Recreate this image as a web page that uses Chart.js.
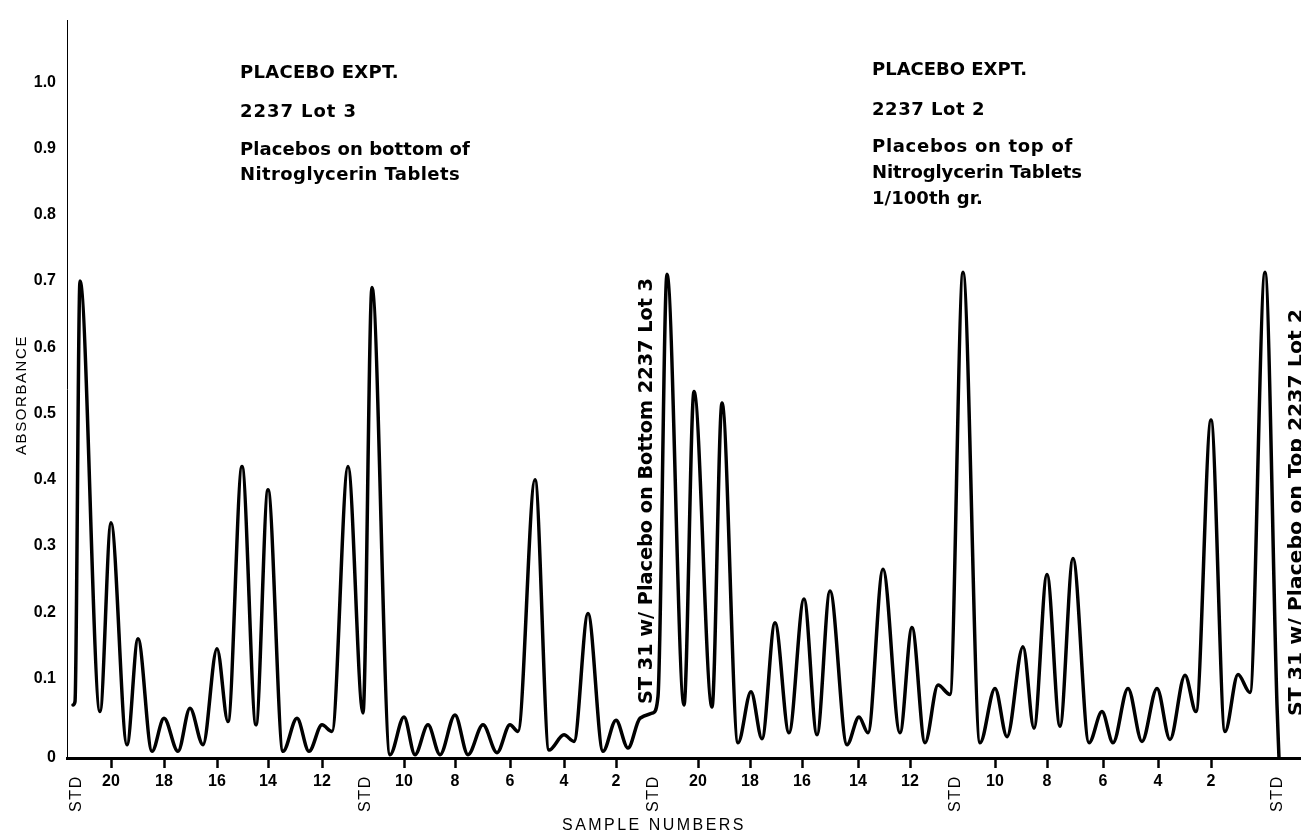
<!DOCTYPE html>
<html>
<head>
<meta charset="utf-8">
<title>Placebo experiment absorbance scan</title>
<script src="https://cdn.jsdelivr.net/npm/chart.js@4.4.1/dist/chart.umd.min.js"></script>
<style>
  html, body { margin: 0; padding: 0; background: #fff; }
  canvas { display: block; }
</style>
</head>
<body>
<canvas id="scan" width="1301" height="833"></canvas>
<script>
// position along the recorder chart (arbitrary units) and absorbance read at each turning point
const scanPos = [
  6, 8, 13, 33, 44, 60, 71, 85, 97, 111, 123, 136, 150, 161, 175, 189, 201, 216, 230, 242,
  255, 265, 281, 296, 305, 323, 337, 348, 361, 373, 388, 401, 416, 430, 443, 451, 468, 482, 497, 507,
  521, 536, 549, 561, 573, 586, 591, 600, 617, 627, 645, 655, 671, 684, 695, 708, 722, 737, 750, 763,
  780, 792, 801, 816, 833, 845, 858, 871, 883, 896, 913, 928, 940, 956, 967, 980, 993, 1006, 1022, 1035,
  1046, 1061, 1075, 1090, 1103, 1118, 1129, 1144, 1158, 1171, 1183, 1198, 1210, 1212
];
const absorbance = [
  0.06, 0.065, 0.70, 0.05, 0.335, 0.0, 0.16, -0.01, 0.04, -0.01, 0.055, 0.0, 0.145, 0.035, 0.42, 0.03, 0.385, -0.01, 0.04, -0.01,
  0.03, 0.02, 0.42, 0.048, 0.69, -0.015, 0.042, -0.015, 0.03, -0.015, 0.045, -0.015, 0.03, -0.012, 0.03, 0.02, 0.40, -0.008, 0.015, 0.005,
  0.198, -0.01, 0.037, -0.005, 0.04, 0.048, 0.073, 0.71, 0.06, 0.533, 0.057, 0.516, 0.003, 0.08, 0.009, 0.184, 0.018, 0.22, 0.015, 0.232,
  0.0, 0.042, 0.018, 0.265, 0.018, 0.177, 0.003, 0.09, 0.076, 0.713, 0.003, 0.085, 0.012, 0.148, 0.025, 0.257, 0.028, 0.281, 0.003, 0.05,
  0.003, 0.085, 0.005, 0.085, 0.008, 0.105, 0.05, 0.49, 0.02, 0.106, 0.079, 0.713, 0.06, -0.02
];

// sample number ticks
const sampleTickPos = [44, 97, 150, 201, 255, 337, 388, 443, 497, 549, 631, 683, 735, 791, 843, 928, 980, 1036, 1091, 1144];
const sampleTickLabels = ['20', '18', '16', '14', '12', '10', '8', '6', '4', '2', '20', '18', '16', '14', '12', '10', '8', '6', '4', '2'];
const stdPos = [10, 299, 587, 889, 1211];

const yTickValues = [0, 0.1, 0.2, 0.3, 0.4, 0.5, 0.6, 0.7, 0.8, 0.9, 1.0];
const yTickLabels = ['0', '0.1', '0.2', '0.3', '0.4', '0.5', '0.6', '0.7', '0.8', '0.9', '1.0'];
const yFloor = -0.02; // the printed "0" sits on the chart baseline

const leftNote = ['PLACEBO EXPT.', '2237 Lot 3', 'Placebos on bottom of', 'Nitroglycerin Tablets'];
const rightNote = ['PLACEBO EXPT.', '2237 Lot 2', 'Placebos on top of', 'Nitroglycerin Tablets', '1/100th gr.'];
const sideNotes = ['ST 31 w/ Placebo on Bottom 2237 Lot 3', 'ST 31 w/ Placebo on Top 2237 Lot 2'];

// draw text stretched to a given width using letter spacing
function fitText(ctx, text, x, y, width) {
  ctx.letterSpacing = '0px';
  const w = ctx.measureText(text).width;
  const n = [...text].length;
  ctx.letterSpacing = ((width - w) / n) + 'px';
  ctx.fillText(text, x, y);
  ctx.letterSpacing = '0px';
}

// squeeze text horizontally to a given width (heavy condensed look)
function squeezeText(ctx, text, width) {
  const w = ctx.measureText(text).width;
  ctx.save();
  ctx.scale(width / w, 1);
  ctx.fillText(text, 0, 0);
  ctx.restore();
}

const textPlugin = {
  id: 'scanText',
  afterDraw(chart) {
    const ctx = chart.ctx;
    const xs = chart.scales.x;
    ctx.save();
    ctx.fillStyle = '#000';

    // STD labels, rotated
    ctx.font = "16px 'Liberation Sans'";
    stdPos.forEach((p) => {
      ctx.save();
      ctx.translate(xs.getPixelForValue(p), 775);
      ctx.rotate(-Math.PI / 2);
      ctx.textAlign = 'right';
      ctx.textBaseline = 'middle';
      fitText(ctx, 'STD', 0, 0, 37);
      ctx.restore();
    });

    // axis titles
    ctx.font = "16px 'Liberation Sans'";
    ctx.textAlign = 'left';
    ctx.textBaseline = 'alphabetic';
    fitText(ctx, 'SAMPLE NUMBERS', 562, 830, 184);

    ctx.save();
    ctx.translate(26, 455);
    ctx.rotate(-Math.PI / 2);
    ctx.font = "15px 'Liberation Sans'";
    fitText(ctx, 'ABSORBANCE', 0, 0, 120);
    ctx.restore();

    // text blocks
    ctx.font = "bold 18px 'DejaVu Sans'";
    const leftBase = [78, 117, 155, 180];
    const leftW = [159, 117, 230, 220];
    leftNote.forEach((t, i) => fitText(ctx, t, 240, leftBase[i], leftW[i]));
    const rightBase = [75, 115, 152, 178, 204];
    const rightW = [155, 113, 201, 210, 111];
    rightNote.forEach((t, i) => fitText(ctx, t, 872, rightBase[i], rightW[i]));

    // rotated run labels
    ctx.font = "bold 20px 'DejaVu Sans'";
    ctx.textBaseline = 'middle';
    ctx.save();
    ctx.translate(647, 704);
    ctx.rotate(-Math.PI / 2);
    squeezeText(ctx, sideNotes[0], 426);
    ctx.restore();

    ctx.save();
    ctx.translate(1297, 716);
    ctx.rotate(-Math.PI / 2);
    squeezeText(ctx, sideNotes[1], 407);
    ctx.restore();

    ctx.restore();
  }
};

const ctx = document.getElementById('scan').getContext('2d');
new Chart(ctx, {
  type: 'line',
  data: {
    datasets: [{
      data: scanPos.map((x, i) => ({ x, y: absorbance[i] })),
      borderColor: '#000',
      borderWidth: 3.5,
      pointRadius: 0,
      fill: false,
      cubicInterpolationMode: 'monotone',
      borderCapStyle: 'round',
      borderJoinStyle: 'round',
      clip: false,
    }],
  },
  options: {
    responsive: false,
    animation: false,
    layout: { padding: { top: 15, right: 0, bottom: 0, left: 0 } },
    plugins: { legend: { display: false }, tooltip: { enabled: false } },
    scales: {
      x: {
        type: 'linear',
        min: 0,
        max: 1234,
        afterFit: (s) => { s.height = 75; },
        afterBuildTicks: (s) => { s.ticks = sampleTickPos.map((v) => ({ value: v })); },
        ticks: {
          autoSkip: false,
          maxRotation: 0,
          minRotation: 0,
          padding: 4,
          color: '#000',
          font: { family: 'Liberation Sans', size: 16, weight: 'bold' },
          callback: (v, i) => sampleTickLabels[i],
        },
        grid: { drawOnChartArea: false, drawTicks: true, tickLength: 10, tickWidth: 2.5, tickColor: '#000' },
        border: { display: true, color: '#000', width: 3 },
      },
      y: {
        type: 'linear',
        min: yFloor,
        max: 1.093,
        afterFit: (s) => { s.width = 67; },
        afterBuildTicks: (s) => { s.ticks = yTickValues.map((v) => ({ value: v === 0 ? yFloor : v })); },
        ticks: {
          padding: 11,
          color: '#000',
          font: { family: 'Liberation Sans', size: 16, weight: 'bold' },
          callback: (v, i) => yTickLabels[i],
        },
        grid: { drawOnChartArea: false, drawTicks: false },
        border: { display: true, color: '#000', width: 1 },
      },
    },
  },
  plugins: [textPlugin],
});
</script>
</body>
</html>
